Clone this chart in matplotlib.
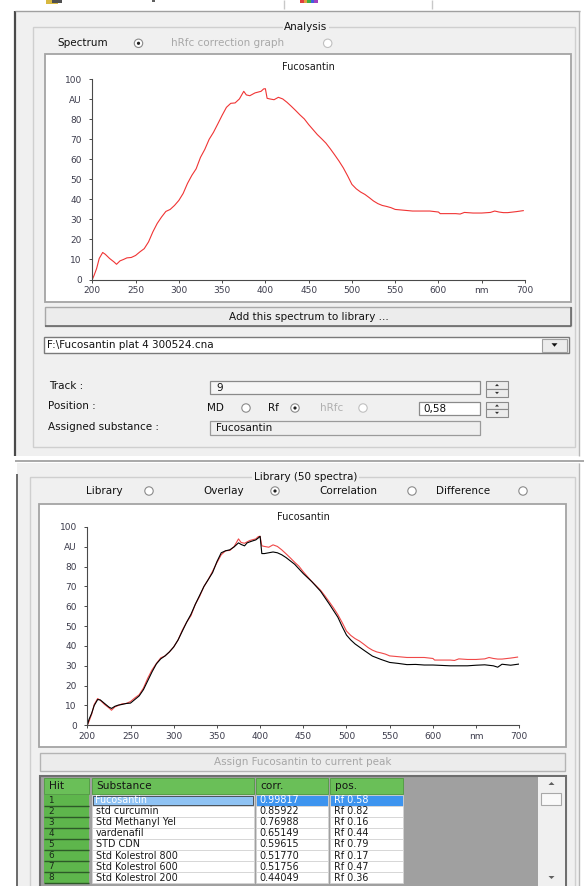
import matplotlib
matplotlib.use('Agg')
import matplotlib.pyplot as plt
from matplotlib.patches import Rectangle, Circle, Polygon

# measured spectrum (red) - same track in both views
red_nm = [200, 202, 205, 208, 212, 215, 220, 225, 228, 232, 236, 240, 245, 250, 255, 260, 265,
          270, 275, 280, 285, 290, 295, 300, 305, 310, 315, 320, 325, 330, 335, 340, 345, 350,
          355, 360, 365, 370, 375, 378, 382, 388, 395, 398, 400, 402, 405, 410, 415, 420, 425,
          430, 435, 440, 445, 450, 455, 460, 465, 470, 475, 480, 485, 490, 495, 500, 505, 510,
          515, 520, 525, 530, 535, 540, 545, 550, 560, 570, 580, 590, 600, 602, 610, 620, 625,
          630, 640, 650, 660, 665, 670, 675, 680, 690, 698]
red_au = [0, 2, 5.5, 10.5, 13.5, 12.6, 10.5, 8.8, 7.6, 9.3, 10, 10.8, 11, 12, 13.8, 15.4, 18.8,
          23.8, 28, 31.2, 34, 35, 37, 39.5, 43, 48, 52, 55.3, 61, 65, 70, 73.5, 77.7, 82,
          86, 88, 88.2, 90.2, 94, 92.2, 91.8, 93.2, 94, 95.2, 95.3, 90.5, 90.2, 89.8, 91, 90.2, 88.5,
          86.5, 84.4, 82.2, 80.2, 77.4, 74.9, 72.4, 70.3, 68.1, 65.3, 62.3, 59.2, 55.8, 51.8, 47.5, 45.3, 43.7,
          42.5, 40.9, 39.2, 37.9, 37, 36.5, 35.9, 35, 34.6, 34.2, 34.2, 34.2, 33.7, 32.9, 32.9, 32.9, 32.7,
          33.5, 33.2, 33.2, 33.5, 34.2, 33.7, 33.4, 33.4, 33.9, 34.4]

# library spectrum (black)
lib_nm = [200, 202, 205, 208, 212, 215, 220, 225, 228, 232, 236, 240, 245, 250, 255, 260, 265,
          270, 275, 280, 285, 290, 295, 300, 305, 310, 315, 320, 325, 330, 335, 340, 345, 350,
          355, 360, 365, 370, 375, 378, 382, 385, 390, 395, 398, 400, 402, 405, 410, 415, 420,
          425, 430, 440, 450, 460, 470, 480, 490, 495, 500, 505, 510, 520, 530, 540, 550, 560,
          570, 580, 590, 600, 610, 620, 630, 640, 650, 660, 670, 675, 680, 690, 700]
lib_au = [0, 3, 6, 10, 13, 12.8, 11, 9.2, 8.5, 9.6, 10.2, 10.5, 11, 11.2, 13, 14.8, 18,
          22.5, 27, 31, 33.5, 35, 37, 39.5, 43, 47.5, 52, 56, 61, 65.5, 70, 73.5, 77, 82.5,
          87, 88, 88.5, 90, 92, 91.2, 90.5, 92, 92.8, 93.5, 94.5, 95.3, 86.6, 86.6, 87, 87.4, 87,
          86, 84.6, 81.2, 76.5, 72.4, 67.6, 61.2, 54.5, 49.8, 45.5, 43, 41, 37.9, 34.9, 33.2, 31.7, 31.2,
          30.6, 30.7, 30.4, 30.4, 30.2, 30, 30, 30, 30.3, 30.5, 30, 29.3, 30.8, 30.3, 30.9]

x_ticks = [200, 250, 300, 350, 400, 450, 500, 550, 600, 650, 700]
x_labels = ['200', '250', '300', '350', '400', '450', '500', '550', '600', 'nm', '700']
y_ticks = [0, 10, 20, 30, 40, 50, 60, 70, 80, 90, 100]
y_labels = ['0', '10', '20', '30', '40', '50', '60', '70', '80', 'AU', '100']

hits = ['1', '2', '3', '4', '5', '6', '7', '8']
substances = ['Fucosantin', 'std curcumin', 'Std Methanyl Yel', 'vardenafil', 'STD CDN',
              'Std Kolestrol 800', 'Std Kolestrol 600', 'Std Kolestrol 200']
corr = ['0.99817', '0.85922', '0.76988', '0.65149', '0.59615', '0.51770', '0.51756', '0.44049']
pos = ['Rf 0.58', 'Rf 0.82', 'Rf 0.16', 'Rf 0.44', 'Rf 0.79', 'Rf 0.17', 'Rf 0.47', 'Rf 0.36']

W, H = 584, 886
BG = '#f0f0f0'
fig = plt.figure(figsize=(W / 100, H / 100), dpi=100)
fig.patch.set_facecolor('white')

# overlay axes in pixel coordinates for the dialog chrome
ui = fig.add_axes([0, 0, 1, 1])
ui.set_xlim(0, W)
ui.set_ylim(H, 0)
ui.axis('off')


def box(x0, y0, x1, y1, fc, ec='none', lw=1.0, z=1):
    ui.add_patch(Rectangle((x0, y0), x1 - x0, y1 - y0, facecolor=fc, edgecolor=ec, lw=lw, zorder=z))


def line(xs, ys, c, lw=1.0, z=2):
    ui.plot(xs, ys, color=c, lw=lw, zorder=z, solid_capstyle='butt')


def txt(x, y, s, size=7.5, color='#111111', ha='left', **kw):
    ui.text(x, y, s, fontsize=size, color=color, ha=ha, va='center', zorder=5, **kw)


def radio(x, y, checked=False, grey=False):
    ec = '#c0c0c0' if grey else '#8a8a8a'
    ui.add_patch(Circle((x, y), 4.2, facecolor='white', edgecolor=ec, lw=0.8, zorder=4))
    if checked:
        ui.add_patch(Circle((x, y), 1.6, facecolor='#202020', edgecolor='none', zorder=5))


def tri(x, y, w, h, up, c='#303030'):
    if up:
        pts = [(x - w / 2, y + h / 2), (x + w / 2, y + h / 2), (x, y - h / 2)]
    else:
        pts = [(x - w / 2, y - h / 2), (x + w / 2, y - h / 2), (x, y + h / 2)]
    ui.add_patch(Polygon(pts, closed=True, facecolor=c, edgecolor='none', zorder=6))


def spin(x0, y0, x1, y1):
    ym = (y0 + y1) / 2
    box(x0, y0, x1, ym, '#ececec', '#8a8a8a', 0.8, z=3)
    box(x0, ym, x1, y1, '#ececec', '#8a8a8a', 0.8, z=3)
    tri((x0 + x1) / 2, (y0 + ym) / 2, 4, 2.2, True)
    tri((x0 + x1) / 2, (ym + y1) / 2, 4, 2.2, False)


def button(x0, y0, x1, y1):
    box(x0, y0, x1, y1, '#ececec', '#a8a8a8', 1.0, z=2)
    line([x1, x1], [y0, y1], '#6a6a6a', 1.2, z=3)
    line([x0, x1], [y1, y1], '#6a6a6a', 1.2, z=3)


# top strip of the main window
box(0, 0, W, 10, 'white')
box(46, 0, 58, 4, '#d8b840')
box(52, 0, 62, 2.5, '#505050')
box(152, 0, 155, 2, '#606060')
line([284, 284], [0, 9], '#c8c8c8')
line([432, 432], [0, 9], '#c8c8c8')
for i, c in enumerate(['#e04040', '#e0a040', '#40b040', '#4060e0', '#a040c0']):
    box(300 + 3.5 * i, 0, 303.5 + 3.5 * i, 3, c)

# panel 1
box(15, 11, 580, 456, BG)
line([14.5, 14.5], [11, 456], '#4a4a4a', 1.6)
line([15, 580], [11, 11], '#a0a0a0', 1.0)
line([579, 579], [11, 456], '#b8b8b8', 1.0)
box(32.8, 26.7, 575, 446.7, 'none', '#cfcfcf', 1.0, z=2)
txt(306, 26.7, 'Analysis', ha='center', bbox=dict(fc=BG, ec='none', pad=1.2))
txt(57.7, 43.3, 'Spectrum')
radio(138.5, 43.3, checked=True)
txt(171, 43.3, 'hRfc correction graph', color='#a8a8a8')
radio(327.7, 43.3, grey=True)

box(45.4, 54, 571, 302, 'white', '#a4a4a4', 1.3, z=2)
button(45.4, 307, 571, 326)
txt(309, 316.7, 'Add this spectrum to library ...', ha='center')

box(44, 337, 569, 353, 'white', '#7a7a7a', 1.0, z=2)
box(542, 338.5, 567, 351.5, '#ececec', '#a0a0a0', 0.8, z=3)
tri(554.5, 345, 6, 3.5, False, '#101010')
txt(47, 345.5, 'F:\\Fucosantin plat 4 300524.cna')

txt(49.5, 386, 'Track :')
box(210, 380.7, 480, 394, '#f6f6f6', '#8a8a8a', 0.9, z=2)
txt(216, 387.7, '9')
spin(486, 381, 508, 397)

txt(48.5, 405.5, 'Position :')
txt(207, 408, 'MD')
radio(246, 408)
txt(268, 408, 'Rf')
radio(295, 408, checked=True)
txt(320, 408, 'hRfc', color='#b0b0b0')
radio(363, 408, grey=True)
box(419, 401.7, 480, 415, 'white', '#8a8a8a', 0.9, z=2)
txt(423, 408.5, '0,58')
spin(486, 401.7, 508, 416.7)

txt(48, 426.7, 'Assigned substance :')
box(210, 420.7, 480, 435, '#efefef', '#9a9a9a', 0.9, z=2)
txt(216, 428, 'Fucosantin')

# separator between the two windows
line([15, W], [461, 461], '#9a9a9a', 1.2)

# panel 2
box(17, 463, 580, 886, BG)
line([16.5, 16.5], [474, 886], '#6a6a6a', 1.4)
line([579, 579], [463, 886], '#b8b8b8', 1.0)
box(29.8, 477.3, 575, 892, 'none', '#cfcfcf', 1.0, z=2)
txt(305.5, 477.3, 'Library (50 spectra)', ha='center', bbox=dict(fc=BG, ec='none', pad=1.2))
txt(86.4, 491, 'Library')
radio(149, 491)
txt(203, 491, 'Overlay')
radio(275, 491, checked=True)
txt(319.5, 491, 'Correlation')
radio(412, 491)
txt(436, 491, 'Difference')
radio(523, 491)

box(39, 504.3, 566, 746.7, 'white', '#a4a4a4', 1.3, z=2)
box(40, 753, 565, 770.7, '#ececec', '#b4b4b4', 1.0, z=2)
txt(303, 761.7, 'Assign Fucosantin to current peak', ha='center', color='#a6a6a6')

# hit table
TS = 6.9
box(40, 775.5, 566, 892, '#a0a0a0', '#6e6e6e', 1.5, z=2)
cols = [(43.5, 89), (91.5, 253.5), (255.5, 327.5), (329.5, 403)]
heads = ['Hit', 'Substance', 'corr.', 'pos.']
for (c0, c1), hd in zip(cols, heads):
    box(c0, 778, c1, 793.5, '#6abf58', '#4f9a40', 0.6, z=3)
    txt(c0 + 5, 786, hd, size=7.6, color='#151515')
row_h = 11.1
for i in range(len(hits)):
    r0 = 794.5 + row_h * i
    r1 = r0 + row_h
    box(cols[0][0], r0, cols[0][1], r1, '#5eb64c', 'none', z=3)
    line([cols[0][0], cols[0][1]], [r1, r1], '#2d5a28', 1.0, z=4)
    txt(cols[0][0] + 5, r0 + row_h / 2, hits[i], size=TS - 0.5, color='#1a2a1a')
    sel = i == 0
    fcs = ['#8fc3f4', '#3d94ef', '#3d94ef'] if sel else ['white', 'white', 'white']
    tc = 'white' if sel else '#1a1a1a'
    vals = [substances[i], corr[i], pos[i]]
    for (c0, c1), fc, v in zip(cols[1:], fcs, vals):
        box(c0, r0, c1, r1, fc, '#d4d4d4', 0.6, z=3)
        txt(c0 + 4, r0 + row_h / 2, v, size=TS, color=tc)
    if sel:
        box(cols[1][0] + 1, r0 + 1, cols[1][1] - 1, r1 - 1, 'none', '#404040', 0.6, z=4)

box(538, 777, 564.5, 892, BG, 'none', z=3)
tri(551.5, 783.5, 6, 3, True, '#606060')
box(541, 792.5, 561, 804.5, '#f9f9f9', '#a8a8a8', 0.8, z=4)
tri(551.5, 877.5, 6, 3, False, '#606060')


def spectrum_axes(px0, px1, py0, py100, title, title_y, series):
    ax = fig.add_axes([px0 / W, 1 - py0 / H, (px1 - px0) / W, (py0 - py100) / H])
    ax.patch.set_alpha(0)
    for s in ['top', 'right']:
        ax.spines[s].set_visible(False)
    for s in ['left', 'bottom']:
        ax.spines[s].set_color('#4a4a4a')
        ax.spines[s].set_linewidth(0.8)
    for nm, au, c in series:
        ax.plot(nm, au, color=c, lw=0.8)
    ax.set_xlim(200, 700)
    ax.set_ylim(0, 100)
    ax.set_xticks(x_ticks, x_labels)
    ax.set_yticks(y_ticks, y_labels)
    ax.tick_params(axis='both', length=2.5, width=0.7, color='#4a4a4a',
                   labelsize=6.5, labelcolor='#3c3c4c')
    ax.tick_params(axis='y', pad=5)
    ax.tick_params(axis='x', pad=2)
    ui.text((px0 + px1) / 2, title_y, title, fontsize=7, color='#1a1a1a',
            ha='center', va='center', zorder=5)
    return ax


spectrum_axes(92.3, 525, 279.5, 79.3, 'Fucosantin', 67,
              [(red_nm, red_au, '#f03434')])
spectrum_axes(87.3, 519.3, 725.3, 527, 'Fucosantin', 516.7,
              [(red_nm, red_au, '#f04848'), (lib_nm, lib_au, '#000000')])

fig.savefig('out.png', dpi=100)
